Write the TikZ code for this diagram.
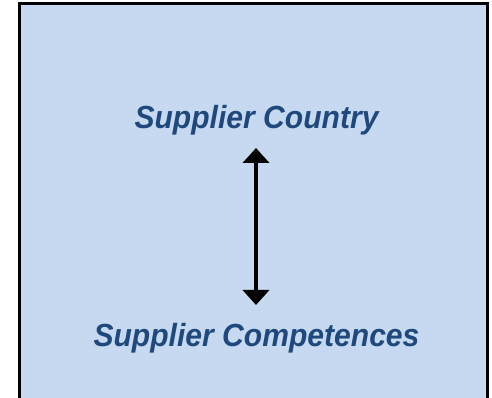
\documentclass[tikz,border=0pt]{standalone}
\usepackage{fontspec}
\setmainfont{Liberation Sans}
\usetikzlibrary{arrows.meta}
\definecolor{panelfill}{RGB}{198,217,240}
\definecolor{labelblue}{RGB}{31,73,125}
\newcommand{\narrow}[1]{\scalebox{0.94}[1]{#1}}
\begin{document}
\begin{tikzpicture}[x=1pt,y=1pt,
  label text/.style={font=\fontsize{32}{38}\selectfont\bfseries\itshape,
    text=labelblue, anchor=base, inner sep=0pt},
  link/.style={line width=4pt, {Triangle[width=26pt,length=15pt]}-{Triangle[width=26pt,length=15pt]}}]
  \useasboundingbox (0,0) rectangle (492,398);
  % panel, open at the bottom edge of the page
  \draw[line width=3pt, fill=panelfill] (19.7,-20) rectangle (487,394.7);
  \node[label text] (country) at (256.5,269) {\narrow{Supplier Country}};
  \node[label text] (comp) at (256.5,51) {\narrow{Supplier Competences}};
  \coordinate (upper) at (256,250);
  \coordinate (lower) at (256,93);
  \draw[link] (upper) -- (lower);
\end{tikzpicture}
\end{document}
